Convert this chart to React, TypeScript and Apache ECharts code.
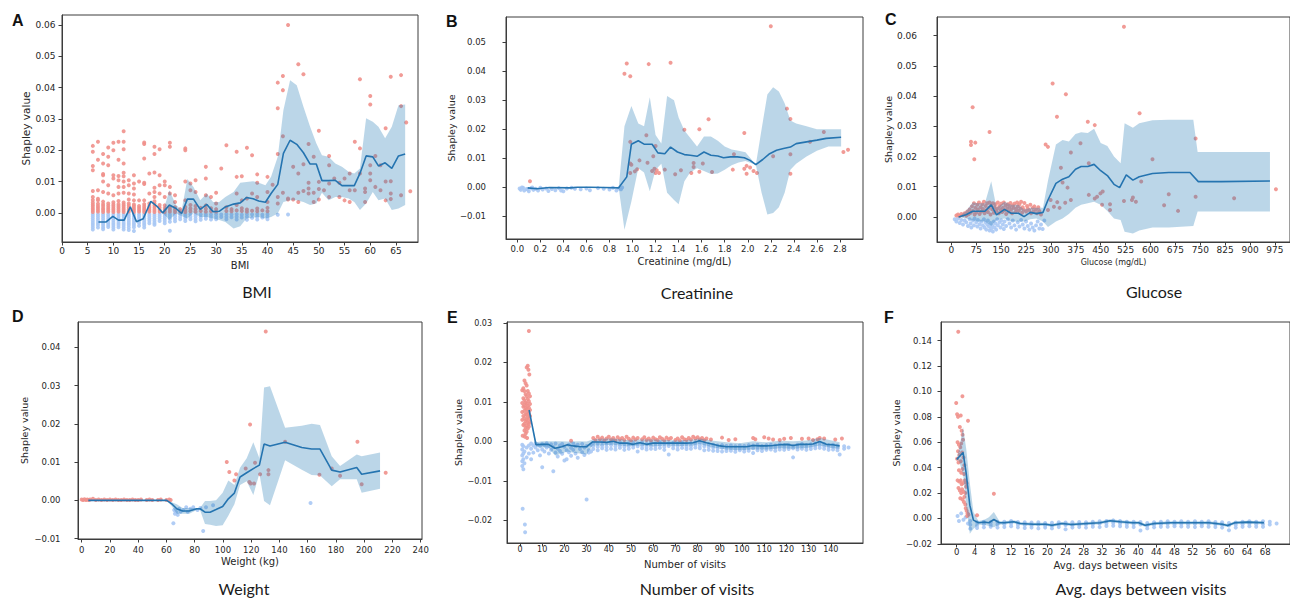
import React, { useEffect, useRef } from "react";
import * as echarts from "echarts";

// ================= Panel A : BMI =================
const aLineX = [7.1, 8.6, 9.9, 11.0, 12.1, 13.3, 14.5, 15.8, 17.3, 18.5, 19.6, 20.9, 22.2, 23.3, 24.4, 25.6, 26.9, 28.2, 29.4, 30.6, 31.8, 33.4, 34.7, 35.9, 37.2, 38.3, 39.6, 40.7, 42.0, 43.1, 44.4, 45.7, 47.0, 48.3, 49.5, 50.6, 51.9, 53.2, 54.5, 55.8, 56.9, 58.0, 59.2, 60.5, 61.6, 62.9, 64.2, 65.5, 66.8];
const aLineY = [-0.0029, -0.0029, -0.0011, -0.0023, -0.0023, 0.0019, -0.0028, -0.0019, 0.0037, 0.0021, 0.0, 0.0025, 0.0014, -0.0002, 0.0044, 0.0044, 0.0011, 0.0027, 0.0004, 0.0005, 0.0019, 0.0028, 0.0032, 0.0049, 0.0045, 0.0038, 0.0034, 0.0062, 0.0091, 0.019, 0.0232, 0.0219, 0.0192, 0.0156, 0.0156, 0.0103, 0.0103, 0.0104, 0.0087, 0.0087, 0.0087, 0.0126, 0.0182, 0.0179, 0.015, 0.016, 0.0142, 0.0182, 0.0188];
const aBandX = [19.6, 20.9, 22.2, 23.3, 24.4, 25.6, 26.9, 28.2, 29.4, 30.6, 31.8, 33.4, 34.7, 35.9, 37.2, 38.3, 39.6, 40.7, 42.0, 43.1, 44.4, 45.7, 47.0, 48.3, 49.5, 50.6, 51.9, 53.2, 54.5, 55.8, 56.9, 58.0, 59.2, 60.5, 61.6, 62.9, 64.2, 65.5, 66.8];
const aBandLo = [0.0, -0.0023, -0.0002, -0.001, -0.0018, 0.0, -0.0013, -0.0013, -0.0018, -0.0023, -0.0029, -0.005, -0.0043, -0.0018, -0.0015, -0.0013, -0.0018, -0.0013, -0.0002, 0.0035, 0.004, 0.004, 0.0035, 0.0025, 0.003, 0.0064, 0.004, 0.0051, 0.0051, 0.0046, 0.0035, 0.0009, 0.003, 0.0067, 0.004, 0.0046, 0.0009, 0.0014, 0.0025];
const aBandHi = [0.0, 0.0072, 0.0025, 0.0009, 0.0108, 0.0083, 0.004, 0.0062, 0.0035, 0.0035, 0.0051, 0.0067, 0.0096, 0.0099, 0.0101, 0.0096, 0.0088, 0.0115, 0.0179, 0.0328, 0.0424, 0.0408, 0.0339, 0.0275, 0.0222, 0.0184, 0.0179, 0.0158, 0.0147, 0.0131, 0.0126, 0.0142, 0.0302, 0.0291, 0.0275, 0.0238, 0.0275, 0.0344, 0.0346];
const aRedCols: [number, number[]][] = [
  [6, [0.0003, 0.0009, 0.0015, 0.0021, 0.0027, 0.0033, 0.0041, 0.0051, 0.007, 0.0136, 0.015, 0.0195, 0.0214]],
  [7, [0.0004, 0.001, 0.0016, 0.0022, 0.0029, 0.004, 0.0045, 0.0072, 0.017, 0.0227]],
  [8, [0.0003, 0.0009, 0.0015, 0.0022, 0.0028, 0.0036, 0.0067, 0.01, 0.012, 0.0124, 0.0158, 0.0188]],
  [9, [0.0004, 0.001, 0.0016, 0.0023, 0.003, 0.0062, 0.0088, 0.0152, 0.0179, 0.0209]],
  [10, [0.0003, 0.0009, 0.0015, 0.0021, 0.0027, 0.0034, 0.0056, 0.011, 0.012, 0.02, 0.0224]],
  [11, [0.0004, 0.001, 0.0016, 0.0022, 0.0028, 0.0038, 0.0062, 0.0083, 0.0104, 0.0118, 0.017, 0.0227]],
  [12, [0.0003, 0.0009, 0.0015, 0.0021, 0.0027, 0.0033, 0.0064, 0.0083, 0.01, 0.0117, 0.0128, 0.0158, 0.0203, 0.0227, 0.0261]],
  [13, [0.0004, 0.001, 0.0017, 0.0024, 0.003, 0.0043, 0.0062, 0.0088, 0.0104]],
  [14, [0.0003, 0.0009, 0.0015, 0.0021, 0.0027, 0.004, 0.0059, 0.0078, 0.0094, 0.012]],
  [15, [0.0004, 0.001, 0.0016, 0.0022, 0.004, 0.01]],
  [16, [0.0003, 0.0009, 0.0015, 0.0021, 0.0028, 0.004, 0.0092, 0.0096, 0.0174, 0.022, 0.0225]],
  [17, [0.0004, 0.001, 0.0016, 0.0022, 0.003, 0.0062, 0.0126]],
  [18, [0.0003, 0.0009, 0.0016, 0.0023, 0.003, 0.0037, 0.0051, 0.0067, 0.008, 0.0129, 0.0188, 0.0211]],
  [19, [0.0004, 0.001, 0.0017, 0.0025, 0.0062, 0.0088, 0.012, 0.0203]],
  [20, [0.0003, 0.0009, 0.0016, 0.0024, 0.0051, 0.0088, 0.01]],
  [21, [0.0004, 0.0011, 0.0018, 0.0062, 0.0083, 0.0211, 0.0224]],
  [22, [0.0003, 0.001, 0.0018, 0.0035, 0.0056]],
  [23, [0.0004, 0.0012]],
  [24, [0.0003, 0.001, 0.0019, 0.004, 0.01, 0.02, 0.0206]],
  [25, [0.0005, 0.0014, 0.0025, 0.0072, 0.0094]],
  [26, [0.0004, 0.0012, 0.0022, 0.0067, 0.0104]],
  [27, [0.0006, 0.0016]],
  [28, [0.0004, 0.0013, 0.0024, 0.0056, 0.011, 0.0147]],
  [29, [0.0005, 0.0015, 0.0051]],
  [30, [0.0004, 0.0012, 0.003, 0.0064]],
  [31, [0.0142]],
  [32, [0.0006, 0.0018, 0.0216]],
  [33, [0.0005, 0.0012]],
  [34, [0.0008, 0.0025, 0.0062, 0.0115, 0.0195]],
  [35, [0.0006, 0.0015, 0.004, 0.0117]],
  [36, [0.0004, 0.0011, 0.0046, 0.0208]],
  [37, [0.0007, 0.0062, 0.0184]],
  [38, [0.0005, 0.0014, 0.0051, 0.0096, 0.0123]],
  [39, [0.0008]],
  [40, [0.0005, 0.0016, 0.0035, 0.0067, 0.0115]],
  [41, [0.009]],
  [42, [0.003, 0.0051, 0.0188, 0.0334, 0.0416]],
  [43, [0.0064, 0.0245, 0.0392, 0.0437]],
  [44, [0.0043, 0.0046, 0.06]],
  [45, [0.0043, 0.0147]],
  [46, [0.0035, 0.0064, 0.0126, 0.0475]],
  [47, [0.007, 0.0155, 0.0443]],
  [48, [0.0062, 0.0078, 0.0096, 0.022]],
  [49, [0.0035, 0.0064, 0.0179]],
  [50, [0.0043, 0.0076, 0.0099, 0.0262]],
  [51, [0.0072]],
  [52, [0.0051, 0.0094, 0.0152, 0.0182]],
  [53, [0.011]],
  [54, [0.0051, 0.0096]],
  [55, [0.004, 0.011]],
  [56, [0.0035, 0.0072, 0.0126]],
  [57, [0.0072, 0.0227]],
  [58, [0.0126, 0.0206, 0.0427]],
  [59, [0.0035, 0.0067, 0.0078]],
  [60, [0.0104, 0.0126, 0.0152, 0.0346, 0.0373]],
  [61, [0.0083, 0.0182]],
  [62, [0.0072, 0.0152]],
  [63, [0.004, 0.01, 0.027]],
  [64, [0.0044, 0.0062, 0.0101, 0.0435]],
  [66, [0.0056, 0.0341, 0.044]],
  [67, [0.0289]],
  [67.8, [0.0069]],
];
const aBlueCols: [number, number[]][] = [
  [6, [-0.0004, -0.0011, -0.0018, -0.0025, -0.0032, -0.0039, -0.0046, -0.0053]],
  [7, [-0.0004, -0.0011, -0.0018, -0.0025, -0.0032, -0.0039, -0.0047]],
  [8, [-0.0004, -0.0011, -0.0018, -0.0025, -0.0032, -0.0039, -0.0046, -0.0052]],
  [9, [-0.0004, -0.0011, -0.0018, -0.0025, -0.0032, -0.0039, -0.0045]],
  [10, [-0.0004, -0.0011, -0.0018, -0.0025, -0.0032, -0.0039, -0.0046, -0.0053]],
  [11, [-0.0004, -0.0011, -0.0018, -0.0025, -0.0032, -0.0039, -0.0046]],
  [12, [-0.0004, -0.0011, -0.0018, -0.0025, -0.0032, -0.0039, -0.0046, -0.0053]],
  [13, [-0.0004, -0.0011, -0.0018, -0.0025, -0.0032, -0.0039, -0.0047, -0.0055]],
  [14, [-0.0004, -0.0011, -0.0018, -0.0025, -0.0032, -0.0039, -0.0046, -0.0058]],
  [15, [-0.0004, -0.0011, -0.0018, -0.0025, -0.0032, -0.0041]],
  [16, [-0.0004, -0.0011, -0.0018, -0.0025, -0.0032, -0.0039, -0.0047]],
  [17, [-0.0004, -0.0011, -0.0018, -0.0025, -0.0033]],
  [18, [-0.0004, -0.0011, -0.0018, -0.0025, -0.0032, -0.0038]],
  [19, [-0.0004, -0.0011, -0.0018, -0.0026]],
  [20, [-0.0004, -0.0011, -0.0018, -0.0025, -0.0033]],
  [21, [-0.0004, -0.0011, -0.0019, -0.0028, -0.0057]],
  [22, [-0.0004, -0.0011, -0.0019, -0.0027]],
  [23, [-0.0004, -0.0012, -0.002]],
  [24, [-0.0004, -0.0011, -0.0018, -0.0026]],
  [25, [-0.0004, -0.0012, -0.002]],
  [26, [-0.0004, -0.0011, -0.0019, -0.0027]],
  [27, [-0.0005, -0.0014, -0.0022]],
  [28, [-0.0004, -0.0011, -0.0019]],
  [29, [-0.0005, -0.0013, -0.0021]],
  [30, [-0.0004, -0.0012, -0.002]],
  [31, [-0.0005, -0.0013]],
  [32, [-0.0004, -0.0012, -0.002]],
  [33, [-0.0005, -0.0014]],
  [34, [-0.0004, -0.0012, -0.0021]],
  [35, [-0.0006, -0.0015]],
  [36, [-0.0004, -0.0012, -0.0022]],
  [37, [-0.0005, -0.0016]],
  [38, [-0.0004, -0.0012, -0.0021]],
  [39, [-0.0006, -0.0015]],
  [40, [-0.0004, -0.0012, -0.002]],
  [42, [-0.0006]],
  [44, [-0.0005]],
];
const aXTicks = [0, 5, 10, 15, 20, 25, 30, 35, 40, 45, 50, 55, 60, 65];
const aYTicks = [0, 0.01, 0.02, 0.03, 0.04, 0.05, 0.06];

// ================= Panel B : Creatinine =================
const bLineX = [0.09, 0.17, 0.28, 0.46, 0.52, 0.63, 0.75, 0.88, 0.95, 0.99, 1.05, 1.10, 1.17, 1.22, 1.28, 1.33, 1.39, 1.45, 1.50, 1.56, 1.62, 1.68, 1.74, 1.79, 1.85, 1.91, 1.97, 2.02, 2.07, 2.13, 2.19, 2.25, 2.31, 2.37, 2.42, 2.51, 2.60, 2.68, 2.81];
const bLineY = [-0.0003, -0.0006, -0.0002, -0.0003, -0.0001, -0.0001, -0.0002, -0.0003, 0.0035, 0.0148, 0.016, 0.0148, 0.0148, 0.0118, 0.0115, 0.0138, 0.0121, 0.0112, 0.011, 0.0106, 0.0121, 0.011, 0.0107, 0.0101, 0.0104, 0.0104, 0.0101, 0.0092, 0.0077, 0.0095, 0.0115, 0.0127, 0.0133, 0.0138, 0.015, 0.0156, 0.0162, 0.0168, 0.0172];
const bBandX = [0.88, 0.93, 0.99, 1.05, 1.10, 1.15, 1.20, 1.25, 1.30, 1.36, 1.40, 1.45, 1.50, 1.56, 1.62, 1.68, 1.74, 1.80, 1.86, 1.92, 1.98, 2.07, 2.12, 2.17, 2.22, 2.27, 2.32, 2.37, 2.42, 2.51, 2.60, 2.70, 2.81];
const bBandLo = [-0.0003, -0.0148, -0.005, 0.0065, 0.005, -0.0015, 0.006, 0.008, -0.002, -0.0045, -0.006, 0.002, 0.005, 0.0065, 0.0055, 0.0045, 0.0047, 0.006, 0.0075, 0.0085, 0.009, 0.0077, -0.002, -0.0095, -0.009, -0.007, -0.002, 0.006, 0.008, 0.0105, 0.0125, 0.014, 0.014];
const bBandHi = [-0.0003, 0.021, 0.028, 0.022, 0.021, 0.031, 0.018, 0.015, 0.0315, 0.030, 0.024, 0.0195, 0.017, 0.014, 0.0175, 0.0175, 0.016, 0.014, 0.013, 0.0125, 0.012, 0.0077, 0.020, 0.032, 0.0345, 0.033, 0.029, 0.023, 0.022, 0.021, 0.020, 0.020, 0.020];
const bRed: number[][] = [
  [0.11, 0.002], [0.93, 0.0392], [0.95, 0.0427], [0.98, 0.0383], [0.98, 0.0156], [0.98, 0.0081], [0.99, 0.0077], [0.98, 0.0048],
  [1.02, 0.0054], [1.04, 0.0061], [1.06, 0.0092], [1.12, 0.0179], [1.14, 0.0425], [1.13, 0.0084], [1.17, 0.0055], [1.18, 0.0106],
  [1.19, 0.0063], [1.20, 0.0048], [1.20, 0.0142], [1.21, 0.0058], [1.23, 0.0048], [1.28, 0.006], [1.33, 0.043], [1.37, 0.0044],
  [1.42, 0.0058], [1.45, 0.0198], [1.51, 0.0048], [1.53, 0.0083], [1.53, 0.0069], [1.58, 0.02], [1.58, 0.0053], [1.61, 0.0081],
  [1.66, 0.0234], [1.69, 0.0052], [1.87, 0.006], [1.88, 0.0113], [1.97, 0.0187], [1.97, 0.0063], [1.99, 0.0046], [1.99, 0.0073],
  [2.02, 0.0067], [2.05, 0.0055], [2.08, 0.0048], [2.20, 0.0556], [2.22, 0.0106], [2.34, 0.0271], [2.37, 0.0235], [2.37, 0.0113],
  [2.37, 0.0046], [2.54, 0.0156], [2.66, 0.019], [2.83, 0.0121], [2.87, 0.0129],
];
const bBlue: number[][] = [
  [0.02, -0.0005], [0.03, -0.001], [0.05, -0.0003], [0.06, -0.0012], [0.08, -0.0007], [0.1, -0.0015], [0.12, -0.0004], [0.14, -0.001],
  [0.16, -0.0006], [0.18, -0.0012], [0.2, -0.0003], [0.22, -0.0009], [0.25, -0.0005], [0.27, -0.0014], [0.3, -0.0007], [0.33, -0.0011],
  [0.36, -0.0004], [0.38, -0.0012], [0.4, -0.0015], [0.43, -0.0005], [0.47, -0.0003], [0.5, -0.0006], [0.55, -0.0008], [0.6, -0.0005],
  [0.63, -0.0011], [0.7, -0.0004], [0.75, -0.0006], [0.8, -0.0009], [0.83, -0.0003], [0.86, -0.0012], [0.88, -0.0005], [0.9, -0.0008],
  [0.91, -0.0002], [0.04, -0.0002], [0.09, -0.0009], [0.13, -0.0002],
];
const bXTicks = [0, 0.2, 0.4, 0.6, 0.8, 1.0, 1.2, 1.4, 1.6, 1.8, 2.0, 2.2, 2.4, 2.6, 2.8];
const bYTicks = [-0.01, 0, 0.01, 0.02, 0.03, 0.04, 0.05];

// ================= Panel C : Glucose =================
const cLineX = [21.7, 44, 64, 81, 101, 120, 136, 160, 180, 202, 219, 238, 256, 276, 291, 315, 335, 354, 374, 391, 411, 430, 450, 470, 490, 507, 527, 547, 566, 606, 655, 719, 744, 812, 960];
const cLineY = [0.0, 0.0007, 0.0019, 0.0019, 0.0019, 0.004, 0.0007, 0.0025, 0.0012, 0.0012, 0.0001, 0.0015, 0.0011, 0.0015, 0.0056, 0.0111, 0.0125, 0.0133, 0.0158, 0.0167, 0.0167, 0.0174, 0.0153, 0.0137, 0.0108, 0.0097, 0.0139, 0.0122, 0.0133, 0.0144, 0.0147, 0.0147, 0.0117, 0.0117, 0.0119];
const cBandX = [21.7, 44, 64, 81, 101, 120, 136, 160, 180, 202, 219, 238, 256, 276, 291, 315, 335, 354, 374, 391, 411, 430, 450, 470, 490, 510, 522, 547, 566, 606, 655, 729, 742, 960];
const cBandLo = [0.0, -0.0005, -0.0012, -0.0015, -0.0015, -0.003, -0.001, -0.0005, -0.0015, -0.0015, -0.0015, -0.0008, -0.0005, -0.0015, -0.0033, -0.0015, -0.0005, 0.001, 0.003, 0.004, 0.0045, 0.005, 0.004, 0.002, -0.0005, -0.001, -0.0049, -0.0055, -0.0045, -0.0035, -0.0035, -0.003, 0.0018, 0.0018];
const cBandHi = [0.0, 0.002, 0.0048, 0.0045, 0.0045, 0.0118, 0.003, 0.005, 0.004, 0.004, 0.0025, 0.003, 0.003, 0.003, 0.012, 0.024, 0.0255, 0.025, 0.0275, 0.028, 0.0278, 0.0292, 0.0245, 0.0235, 0.020, 0.0178, 0.031, 0.0295, 0.031, 0.032, 0.0322, 0.0322, 0.0215, 0.0215];
const cRed: number[][] = [
  [15, 0.0005], [20, 0.0008], [25, 0.0003], [30, 0.001], [35, 0.0006], [40, 0.0012], [45, 0.0004], [48, 0.0018], [52, 0.0009], [55, 0.0025],
  [58, 0.0014], [62, 0.0035], [65, 0.002], [68, 0.0045], [70, 0.0008], [72, 0.003], [75, 0.0015], [78, 0.004], [80, 0.0025], [83, 0.0048],
  [85, 0.001], [88, 0.0032], [90, 0.0018], [93, 0.0042], [95, 0.0026], [98, 0.005], [100, 0.0012], [103, 0.0036], [105, 0.0022], [108, 0.0045],
  [110, 0.0016], [113, 0.003], [115, 0.0048], [118, 0.0008], [120, 0.0038], [123, 0.0025], [125, 0.0045], [128, 0.0014], [130, 0.0032], [133, 0.0042],
  [135, 0.002], [138, 0.0028], [140, 0.0048], [143, 0.0012], [145, 0.0036], [148, 0.0024], [150, 0.0044], [153, 0.0016], [155, 0.003], [158, 0.0048],
  [160, 0.0022], [163, 0.0038], [165, 0.001], [168, 0.0028], [170, 0.0042], [173, 0.0018], [175, 0.0034], [178, 0.0046], [180, 0.0025], [183, 0.0012],
  [185, 0.0038], [188, 0.003], [190, 0.0044], [193, 0.0016], [195, 0.0026], [198, 0.0048], [200, 0.0035], [203, 0.002], [205, 0.0042], [208, 0.0028],
  [210, 0.005], [213, 0.0014], [215, 0.0032], [218, 0.0024], [220, 0.0046], [225, 0.0018], [228, 0.0036], [230, 0.0028], [235, 0.0022], [238, 0.004],
  [240, 0.0012], [245, 0.003], [248, 0.0018], [250, 0.0035], [255, 0.0025], [258, 0.0012], [262, 0.0032], [265, 0.002], [270, 0.0008],
  [64, 0.0363], [59, 0.0249], [59, 0.0238], [72, 0.0246], [69, 0.0191], [115, 0.0281], [284, 0.024], [291, 0.0232], [305, 0.0442], [318, 0.0332],
  [330, 0.0163], [335, 0.0114], [345, 0.0406], [350, 0.0097], [360, 0.0213], [360, 0.0056], [343, 0.0047], [389, 0.0244], [411, 0.0315], [414, 0.0178],
  [414, 0.0073], [432, 0.0304], [432, 0.0061], [439, 0.0067], [449, 0.0078], [456, 0.0084], [454, 0.004], [478, 0.0023], [478, 0.0042], [520, 0.063],
  [520, 0.0053], [544, 0.0056], [547, 0.0064], [556, 0.005], [567, 0.0343], [572, 0.0117], [606, 0.0191], [641, 0.0039], [655, 0.0075], [683, 0.002],
  [736, 0.026], [736, 0.0067], [852, 0.0062], [978, 0.0092], [291, 0.0023], [309, 0.0034], [319, 0.0049], [326, 0.003], [299, 0.0056],
];
const cBlue: number[][] = [
  [10, -0.0008], [15, -0.0015], [20, -0.0005], [25, -0.002], [30, -0.001], [35, -0.0025], [40, -0.0012], [45, -0.0018], [50, -0.003], [55, -0.0008],
  [58, -0.0022], [60, -0.0035], [65, -0.0012], [68, -0.0028], [70, -0.0005], [75, -0.0018], [78, -0.0032], [80, -0.001], [85, -0.0024], [88, -0.0038],
  [90, -0.0015], [95, -0.0028], [98, -0.0008], [100, -0.0035], [103, -0.0018], [105, -0.0042], [108, -0.0025], [110, -0.0012], [113, -0.0032], [115, -0.0045],
  [118, -0.002], [120, -0.0038], [123, -0.0028], [125, -0.0048], [128, -0.0015], [130, -0.0035], [133, -0.0022], [135, -0.0042], [138, -0.0008], [140, -0.0028],
  [145, -0.0018], [148, -0.0035], [150, -0.0012], [155, -0.0025], [158, -0.004], [160, -0.0015], [165, -0.003], [170, -0.0008], [175, -0.0022], [180, -0.0035],
  [185, -0.0012], [190, -0.0028], [195, -0.0042], [200, -0.0018], [205, -0.0032], [210, -0.001], [215, -0.0025], [220, -0.0038], [225, -0.0015], [230, -0.003],
  [235, -0.0042], [240, -0.0022], [245, -0.0035], [250, -0.0045], [255, -0.0028], [260, -0.0015], [265, -0.0038], [270, -0.0025], [275, -0.004], [280, -0.0012],
];
const cXTicks = [0, 75, 150, 225, 300, 375, 450, 525, 600, 675, 750, 825, 900, 975];
const cYTicks = [0, 0.01, 0.02, 0.03, 0.04, 0.05, 0.06];

// ================= Panel D : Weight =================
const dLineX = [4.7, 60.2, 63.7, 67.3, 71.5, 76.2, 81.4, 83.8, 87.3, 90.9, 95.1, 99.8, 103.8, 108.1, 112.1, 116.8, 121.5, 125.8, 129.1, 133.3, 144, 155.8, 162.8, 168.7, 177, 182.9, 194.7, 198.2, 211.2];
const dLineY = [0.0, 0.0, -0.0009, -0.0022, -0.0028, -0.0028, -0.0022, -0.0022, -0.0031, -0.0031, -0.0024, -0.0016, 0.0004, 0.0019, 0.0061, 0.0072, 0.0083, 0.0092, 0.0147, 0.0142, 0.0152, 0.0138, 0.0134, 0.0134, 0.0079, 0.0074, 0.0086, 0.0068, 0.0077];
const dBandX = [60.2, 63.7, 67.3, 71.5, 76.2, 81.4, 83.8, 87.3, 90.9, 95.1, 99.8, 103.8, 108.1, 112.1, 116.8, 121.5, 125.8, 129.1, 133.3, 144, 155.8, 162.8, 168.7, 177, 182.9, 194.7, 198.2, 211.2];
const dBandLo = [0.0, -0.0015, -0.0035, -0.0035, -0.0035, -0.0025, -0.0025, -0.0062, -0.0064, -0.0067, -0.0065, -0.004, -0.001, 0.004, 0.005, 0.0014, 0.007, -0.0002, -0.0013, 0.0105, 0.008, 0.0066, 0.0065, 0.0037, 0.0055, 0.0055, 0.002, 0.003];
const dBandHi = [0.0, -0.0005, -0.001, -0.002, -0.002, -0.002, -0.002, -0.0002, -0.0002, 0.0, 0.002, 0.0052, 0.004, 0.0085, 0.011, 0.0152, 0.011, 0.0295, 0.0298, 0.019, 0.0195, 0.020, 0.0197, 0.0115, 0.009, 0.012, 0.0115, 0.0125];
const dRed: number[][] = [
  [0, 0.0002], [1, 0.0001], [2, 0.0003], [3, 0.0001], [4, 0.0002], [5, 0.0001], [6, 0.0002], [8, 0.0004], [10, 0.0001], [12, 0.0002],
  [14, 0.0001], [16, 0.0002], [18, 0.0001], [20, 0.0002], [22, 0.0001], [24, 0.0002], [26, 0.0001], [28, 0.0001], [30, 0.0002], [32, 0.0001],
  [34, 0.0001], [36, 0.0002], [38, 0.0001], [40, 0.0001], [42, 0.0002], [46, 0.0001], [48, 0.0002], [50, 0.0001], [54, 0.0001], [56, 0.0002],
  [60, 0.0001], [62, 0.0002], [63, 0.0001],
  [102.7, 0.01], [104.5, 0.0074], [108.1, 0.0052], [109.3, 0.0068], [116.1, 0.0083], [118.7, 0.0048], [119.2, 0.0198], [119.6, 0.0044],
  [122, 0.0044], [122.7, 0.0098], [126.3, 0.0068], [130.3, 0.0441], [132.2, 0.0079], [132.2, 0.0068], [144, 0.0153], [168.3, 0.0067],
  [177, 0.0083], [182.9, 0.0064], [195.2, 0.0153], [198.2, 0.0042], [215.2, 0.0072],
];
const dBlue: number[][] = [
  [64.9, -0.006], [65.5, -0.0025], [66, -0.0035], [66.5, -0.0028], [67, -0.0032], [68, -0.0038], [69, -0.0022], [70, -0.003], [72, -0.0025],
  [74, -0.0018], [75, -0.003], [77, -0.0022], [79, -0.0018], [82, -0.0025], [84, -0.002], [86, -0.008], [88, -0.0018], [93, -0.0013], [162, -0.0007],
];
const dXTicks = [0, 20, 40, 60, 80, 100, 120, 140, 160, 180, 200, 220, 240];
const dYTicks = [-0.01, 0, 0.01, 0.02, 0.03, 0.04];

// ================= Panel E : Number of visits =================
const eLineX = [4.1, 7.2, 9.8, 12.8, 15.8, 18.8, 21.3, 24, 27, 30, 32.7, 36, 39, 42, 45, 48, 51, 54, 57, 60, 63, 66, 69, 72, 75, 78, 80.8, 84, 87, 90, 93, 96, 99, 102, 105, 108, 111, 114, 117, 120, 123, 126, 129, 132, 135, 138, 141, 144];
const eLineY = [0.008, -0.0008, -0.0007, -0.0007, -0.0017, -0.0013, -0.0008, -0.0011, -0.0013, -0.0013, -0.0001, -0.0001, -0.0002, 0.0001, -0.0004, -0.0004, -0.0007, -0.0003, -0.0007, -0.0004, -0.0004, -0.0004, -0.0004, -0.0004, -0.0004, -0.0003, 0.0002, -0.0003, -0.0007, -0.0011, -0.0013, -0.0013, -0.0013, -0.0013, -0.001, -0.0011, -0.0011, -0.001, -0.0008, -0.0007, -0.001, -0.0007, -0.0007, -0.0006, 0.0, -0.0007, -0.0008, -0.0011];
const eBandX = [4.1, 7.2, 9.8, 12.8, 15.8, 18.8, 21.3, 24, 27, 30, 32.7, 36, 42, 48, 54, 60, 66, 72, 78, 80.8, 87, 93, 99, 105, 111, 117, 123, 129, 135, 141, 144];
const eBandLo = [0.008, -0.0012, -0.0015, -0.0015, -0.0035, -0.003, -0.0025, -0.0028, -0.003, -0.0033, -0.001, -0.001, -0.0008, -0.0012, -0.001, -0.0012, -0.001, -0.0011, -0.001, -0.0006, -0.0015, -0.002, -0.0022, -0.002, -0.002, -0.0017, -0.0018, -0.0016, -0.001, -0.0017, -0.0018];
const eBandHi = [0.008, -0.0002, 0.0001, 0.0001, 0.0001, 0.0001, 0.0, 0.0, 0.0001, 0.0, 0.0005, 0.0007, 0.0008, 0.0004, 0.0005, 0.0005, 0.0004, 0.0003, 0.0005, 0.0008, 0.0002, -0.0002, -0.0004, 0.0001, -0.0002, 0.0002, 0.0001, 0.0003, 0.0009, 0.0002, -0.0002];
const eRed: number[][] = [
  [1, 0.013], [1, 0.0098], [1, 0.0075], [1, 0.0055], [1.5, 0.0135], [1.5, 0.011], [1.5, 0.0088], [1.5, 0.0065], [1.5, 0.0042],
  [2, 0.0155], [2, 0.0128], [2, 0.0105], [2, 0.0092], [2, 0.0078], [2, 0.006], [2, 0.0045], [2, 0.0028],
  [2.5, 0.0148], [2.5, 0.012], [2.5, 0.0099], [2.5, 0.0085], [2.5, 0.007], [2.5, 0.0052], [2.5, 0.0035], [2.5, 0.002],
  [3, 0.0188], [3, 0.0142], [3, 0.0115], [3, 0.0096], [3, 0.0082], [3, 0.0068], [3, 0.0055], [3, 0.004], [3, 0.0025],
  [3.5, 0.0192], [3.5, 0.0128], [3.5, 0.0108], [3.5, 0.009], [3.5, 0.0076], [3.5, 0.0062], [3.5, 0.0048], [3.5, 0.0033],
  [4, 0.028], [4, 0.0122], [4, 0.0102], [4, 0.0086], [4, 0.0072], [4, 0.0058], [4, 0.0045], [4, 0.0038],
  [4.5, 0.0115], [4.5, 0.0095], [4.5, 0.008], [4.5, 0.0065], [4.5, 0.005], [1.2, 0.0015], [2.2, 0.0012], [3.2, 0.0009], [4.2, 0.017], [3.8, 0.0182],
  [23, 0.0002], [33, 0.0009], [34, 0.0004], [35, 0.0012], [36, 0.0006], [37, 0.001], [38, 0.0003], [39, 0.0008], [40, 0.0012], [41, 0.0005],
  [42, 0.0009], [43, 0.0003], [44, 0.0011], [45, 0.0006], [46, 0.0009], [47, 0.0004], [48, 0.0012], [49, 0.0007], [50, 0.0003], [51, 0.001],
  [52, 0.0005], [53, 0.0009], [55, 0.0006], [56, 0.0011], [57, 0.0004], [58, 0.0008], [59, 0.0003], [60, 0.001], [61, 0.0006], [62, 0.0004],
  [63, 0.0011], [64, 0.0007], [65, 0.0003], [66, 0.001], [67, 0.0006], [68, 0.0009], [70, 0.0004], [71, 0.0008], [72, 0.0003], [73, 0.0011],
  [74, 0.0006], [75, 0.0004], [76, 0.0009], [77, 0.0005], [78, 0.0012], [79, 0.0008], [80, 0.0011], [81, 0.0006], [82, 0.0009], [83, 0.0004],
  [84, 0.0008], [86, 0.0005], [91, 0.001], [94, 0.0004], [97, 0.0006], [105, 0.0009], [106, 0.0006], [110, 0.0011], [112, 0.0008], [114, 0.0005],
  [117, 0.0004], [119, 0.0007], [122, 0.0009], [127, 0.0007], [130, 0.0008], [132, 0.0004], [134, 0.0006], [135, 0.0009], [137, 0.0008], [142, 0.0005], [145, 0.0008],
];
const eBlueNear: number[][] = [
  [1, -0.0008], [1, -0.002], [1, -0.0035], [1, -0.005], [1, -0.0062], [1.2, -0.017], [1.5, -0.0012], [1.5, -0.003], [1.5, -0.0045], [1.5, -0.007],
  [2, -0.0025], [2, -0.0055], [2.2, -0.021], [2.3, -0.023], [3, -0.0015], [3, -0.004], [4, -0.001], [4, -0.003], [5, -0.0045],
  [5, -0.0005], [5, -0.0018], [6, -0.001], [6, -0.0028], [7, -0.0004], [7, -0.0015], [8, -0.0008], [8, -0.0022], [9, -0.0012], [9, -0.0035],
  [10, -0.0006], [10, -0.002], [10, -0.0065], [11, -0.0009], [11, -0.0025], [12, -0.0004], [12, -0.0015], [13, -0.0011], [13, -0.003], [14, -0.0007],
  [14, -0.0021], [15, -0.0075], [15, -0.0014], [16, -0.0028], [16, -0.0005], [17, -0.0018], [17, -0.0038], [18, -0.001], [18, -0.0024], [19, -0.0006],
  [19, -0.0031], [20, -0.0048], [20, -0.0013], [21, -0.0022], [21, -0.0045], [22, -0.0008], [22, -0.0027], [23, -0.0016], [23, -0.0036], [24, -0.0005],
  [24, -0.0021], [25, -0.0012], [25, -0.003], [26, -0.0041], [26, -0.0008], [27, -0.0019], [28, -0.0027], [28, -0.0006], [29, -0.0015], [29, -0.0034],
  [30, -0.0147], [30, -0.0011], [31, -0.0022], [31, -0.0028], [32, -0.0008], [32, -0.0025],
];
const eBlueCols: [number, number[]][] = [
  [33, [-0.0003, -0.0011, -0.0019]], [35, [-0.0005, -0.0013, -0.0022]], [37, [-0.0002, -0.001, -0.0017]], [39, [-0.0006, -0.0014, -0.0021]],
  [41, [-0.0003, -0.0009, -0.0018]], [43, [-0.0005, -0.0012, -0.002]], [45, [-0.0002, -0.001, -0.0016]], [47, [-0.0006, -0.0013, -0.0021]],
  [49, [-0.0004, -0.0011, -0.0018]], [51, [-0.0003, -0.0009, -0.0015]], [53, [-0.0005, -0.0012, -0.0025]], [55, [-0.0002, -0.001, -0.0017]],
  [57, [-0.0006, -0.0014, -0.002]], [59, [-0.0003, -0.0011, -0.0018]], [61, [-0.0005, -0.0012, -0.0019]], [63, [-0.0002, -0.0009, -0.0016]],
  [65, [-0.0006, -0.0013, -0.0021]], [67, [-0.0004, -0.0011, -0.0033]], [69, [-0.0003, -0.001, -0.0017]], [71, [-0.0005, -0.0012, -0.002]],
  [73, [-0.0002, -0.0009, -0.0016]], [75, [-0.0006, -0.0013, -0.0019]], [77, [-0.0004, -0.0011, -0.0018]], [79, [-0.0002, -0.0008, -0.0015]],
  [81, [-0.0003, -0.001, -0.0017]], [83, [-0.0005, -0.0012, -0.0022]], [85, [-0.0007, -0.0014, -0.0021]], [87, [-0.0008, -0.0015, -0.0023]],
  [89, [-0.001, -0.0017, -0.0024]], [91, [-0.0009, -0.0016, -0.0025]], [93, [-0.0011, -0.0018, -0.0024]], [95, [-0.001, -0.0017, -0.0023]],
  [97, [-0.0012, -0.0019, -0.0026]], [99, [-0.001, -0.0016, -0.0022]], [101, [-0.0011, -0.0018, -0.0025]], [103, [-0.0009, -0.0016, -0.0023]],
  [105, [-0.001, -0.0017, -0.0029]], [107, [-0.0008, -0.0015, -0.0022]], [109, [-0.0011, -0.0017, -0.0024]], [111, [-0.0009, -0.0016, -0.0021]],
  [113, [-0.0008, -0.0014, -0.002]], [115, [-0.001, -0.0016, -0.0023]], [117, [-0.0007, -0.0013, -0.002]], [119, [-0.0009, -0.0015, -0.0021]],
  [121, [-0.0008, -0.0014, -0.0019]], [123, [-0.0011, -0.0017, -0.004]], [125, [-0.0008, -0.0014, -0.002]], [127, [-0.0006, -0.0012, -0.0018]],
  [129, [-0.0009, -0.0015, -0.0021]], [131, [-0.0007, -0.0013, -0.0019]], [133, [-0.0005, -0.0011, -0.0017]], [135, [-0.0003, -0.001, -0.0016]],
  [137, [-0.0006, -0.0012, -0.0018]], [139, [-0.0009, -0.0015, -0.0021]], [141, [-0.0008, -0.0014, -0.002]], [143, [-0.001, -0.0016, -0.0022]],
  [144, [-0.0033]], [146, [-0.0012, -0.0018]], [148, [-0.0015]],
];
const eXTicks = [0, 10, 20, 30, 40, 50, 60, 70, 80, 90, 100, 110, 120, 130, 140];
const eYTicks = [-0.02, -0.01, 0, 0.01, 0.02, 0.03];

// ================= Panel F : Avg. days between visits =================
const fLineX = [0, 0.56, 1.41, 2.1, 2.9, 3.7, 4.8, 6.1, 7.1, 8.2, 9.4, 10.5, 12.6, 14, 16.8, 19.6, 21, 23.2, 25.3, 28.8, 31.6, 33.8, 36, 38.7, 40.1, 41.5, 43.6, 47.2, 50, 52.8, 55.6, 58.5, 59.7, 61.3, 64.1, 67.7];
const fLineY = [0.0465, 0.0486, 0.052, 0.0355, 0.0105, -0.0013, -0.0034, -0.0029, -0.0034, -0.0008, -0.0034, -0.0034, -0.0026, -0.0039, -0.0045, -0.0045, -0.0053, -0.0039, -0.0047, -0.0039, -0.0034, -0.0018, -0.0026, -0.0034, -0.0034, -0.0053, -0.0039, -0.0034, -0.0034, -0.0034, -0.0034, -0.0045, -0.0055, -0.0034, -0.0029, -0.0034];
const fBandX = fLineX;
const fBandLo = [0.0465, 0.045, 0.035, 0.01, -0.012, -0.008, -0.005, -0.005, -0.006, -0.007, -0.005, -0.0046, -0.0038, -0.0051, -0.0057, -0.0057, -0.0065, -0.0051, -0.0059, -0.0051, -0.0046, -0.003, -0.0038, -0.0046, -0.0046, -0.0065, -0.0051, -0.0046, -0.0046, -0.0046, -0.0046, -0.0057, -0.0067, -0.0046, -0.0041, -0.0046];
const fBandHi = [0.0465, 0.055, 0.072, 0.055, 0.028, 0.005, -0.002, -0.001, 0.001, 0.005, -0.002, -0.0022, -0.0014, -0.0027, -0.0033, -0.0033, -0.0041, -0.0027, -0.0035, -0.0027, -0.0022, -0.0006, -0.0014, -0.0022, -0.0022, -0.0041, -0.0027, -0.0022, -0.0022, -0.0022, -0.0022, -0.0033, -0.0043, -0.0022, -0.0017, -0.0022];
const fRed: number[][] = [
  [-0.1, 0.091], [0.35, 0.147], [1.27, 0.0962], [2.5, 0.077], [0.1, 0.082], [0.3, 0.08], [0.9, 0.081], [0.7, 0.072], [1.1, 0.069], [1.3, 0.066],
  [0.2, 0.06], [0.5, 0.058], [0.8, 0.056], [1.0, 0.059], [1.4, 0.062], [0.3, 0.053], [0.6, 0.05], [1.2, 0.052], [0.1, 0.047], [0.4, 0.044],
  [0.9, 0.045], [1.5, 0.048], [1.7, 0.042], [0.5, 0.038], [1.0, 0.036], [1.3, 0.039], [1.6, 0.035], [0.2, 0.03], [0.6, 0.029], [0.9, 0.03],
  [1.1, 0.027], [1.4, 0.028], [1.8, 0.03], [2.2, 0.028], [0.4, 0.024], [0.7, 0.022], [1.0, 0.02], [1.2, 0.023], [1.5, 0.021], [1.9, 0.02],
  [2.1, 0.025], [0.8, 0.016], [1.3, 0.015], [1.6, 0.013], [1.9, 0.011], [2.0, 0.008], [2.2, 0.006], [2.4, 0.004], [2.3, 0.002], [8.2, 0.0195],
  [4.5, 0.0025], [1.7, 0.017], [2.6, 0.003],
];
const fBlueNear: number[][] = [[0.2, 0.002], [0.5, -0.002], [1, 0.004], [1.5, -0.001], [2, 0.001], [2.5, -0.004]];
const fBlueCols: [number, number[]][] = [
  [3, [-0.002, -0.005, -0.008]], [4.5, [-0.003, -0.0055, -0.0075]], [6, [-0.0025, -0.0045, -0.007]], [7.5, [-0.003, -0.005, -0.0065]],
  [9, [-0.0028, -0.0048, -0.0072]], [10.5, [-0.0025, -0.0045, -0.0068]], [12, [-0.002, -0.004, -0.0062]], [13.5, [-0.0028, -0.005, -0.007]],
  [15, [-0.003, -0.0052, -0.0075]], [16.5, [-0.0032, -0.0055, -0.0072]], [18, [-0.003, -0.005, -0.0078]], [19.5, [-0.0035, -0.0055, -0.0072]],
  [21, [-0.0033, -0.0058, -0.0078]], [22.5, [-0.003, -0.005, -0.0068]], [24, [-0.0032, -0.0052, -0.0085]], [25.5, [-0.003, -0.0055, -0.0072]],
  [27, [-0.0028, -0.005, -0.0068]], [28.5, [-0.003, -0.0048, -0.0072]], [30, [-0.0025, -0.0045, -0.0065]], [31.5, [-0.0022, -0.0042, -0.0068]],
  [33, [-0.002, -0.004, -0.006]], [34.5, [-0.0015, -0.0035, -0.0058]], [36, [-0.002, -0.004, -0.0062]], [37.5, [-0.0025, -0.0045, -0.0066]],
  [39, [-0.0025, -0.0045, -0.0068]], [40.5, [-0.0028, -0.0048, -0.0095]], [42, [-0.0035, -0.0058, -0.0078]], [43.5, [-0.003, -0.005, -0.007]],
  [45, [-0.0025, -0.0045, -0.0066]], [46.5, [-0.0022, -0.0042, -0.0065]], [48, [-0.0025, -0.0045, -0.0062]], [49.5, [-0.0022, -0.0042, -0.0064]],
  [51, [-0.0025, -0.0045, -0.0066]], [52.5, [-0.0022, -0.0044, -0.0068]], [54, [-0.0025, -0.0045, -0.0062]], [55.5, [-0.0022, -0.0042, -0.0065]],
  [57, [-0.0028, -0.0048, -0.0068]], [58.5, [-0.003, -0.005, -0.0072]], [60, [-0.0035, -0.0055, -0.0092]], [61.5, [-0.0032, -0.0052, -0.0072]],
  [63, [-0.0025, -0.0045, -0.0066]], [64.5, [-0.0022, -0.0042, -0.0062]], [66, [-0.0025, -0.0045, -0.0065]], [67.5, [-0.0022, -0.0044, -0.0066]],
  [69, [-0.0025, -0.0048]], [70.5, [-0.004]],
];
const fXTicks = [0, 4, 8, 12, 16, 20, 24, 28, 32, 36, 40, 44, 48, 52, 56, 60, 64, 68];
const fYTicks = [-0.02, 0, 0.02, 0.04, 0.06, 0.08, 0.1, 0.12, 0.14];

// ================= helpers =================
const zip = (xs: number[], ys: number[]) => xs.map((x, i) => [x, ys[i]]);
const cols = (c: [number, number[]][]) => {
  const out: number[][] = [];
  c.forEach(([x, ys]) => ys.forEach((y) => out.push([x, y])));
  return out;
};
const bandRows = (xs: number[], lo: number[], hi: number[]) => xs.map((x, i) => [x, lo[i], hi[i]]);

const RED = "#f0908b";
const BLUE = "#a9c8f4";
const LINE = "#2574b0";
const BAND = "rgba(31,119,180,0.30)";
const FRAME = "#3c3c3c";
const TXT = "#262626";

const fmtY = (v: number) => {
  const s = Math.abs(v) < 1e-9 ? "0.00" : v.toFixed(2);
  return s.replace("-", "\u2212");
};

const panels = [
  {
    letter: "A", caption: "BMI", xName: "BMI",
    grid: { left: 62, top: 15, width: 356, height: 227 },
    xMin: 0, xMax: 69.3, yMin: -0.0093, yMax: 0.0632, xTicks: aXTicks, yTicks: aYTicks, xDec: 0,
    tick: 9, xMargin: 4, yMargin: 6.5, xNameSize: 10, xNameGap: 18, yNameSize: 10.5, yNameGap: 31,
    letterPos: [12, 20.5], captionPos: [257, 291],
    line: zip(aLineX, aLineY), band: bandRows(aBandX, aBandLo, aBandHi), red: cols(aRedCols), blue: cols(aBlueCols),
  },
  {
    letter: "B", caption: "Creatinine", xName: "Creatinine (mg/dL)",
    grid: { left: 506, top: 17, width: 357, height: 222 },
    xMin: -0.098, xMax: 3.0, yMin: -0.018, yMax: 0.0588, xTicks: bXTicks, yTicks: bYTicks, xDec: 1,
    tick: 8.5, xMargin: 5, yMargin: 20, xNameSize: 10, xNameGap: 17, yNameSize: 9.5, yNameGap: 40.5,
    letterPos: [446, 21], captionPos: [697, 292],
    line: zip(bLineX, bLineY), band: bandRows(bBandX, bBandLo, bBandHi), red: bRed, blue: bBlue,
  },
  {
    letter: "C", caption: "Glucose", xName: "Glucose (mg/dL)",
    grid: { left: 937, top: 17, width: 360, height: 225 },
    xMin: -43.4, xMax: 1020.4, yMin: -0.0083, yMax: 0.0662, xTicks: cXTicks, yTicks: cYTicks, xDec: 0,
    tick: 9, xMargin: 3.5, yMargin: 20, xNameSize: 8, xNameGap: 16.5, yNameSize: 9.5, yNameGap: 32.5,
    letterPos: [885, 19], captionPos: [1154, 291],
    line: zip(cLineX, cLineY), band: bandRows(cBandX, cBandLo, cBandHi), red: cRed, blue: cBlue,
  },
  {
    letter: "D", caption: "Weight", xName: "Weight (kg)",
    grid: { left: 78, top: 322, width: 344, height: 217 },
    xMin: -2.6, xMax: 240.9, yMin: -0.0101, yMax: 0.0466, xTicks: dXTicks, yTicks: dYTicks, xDec: 0,
    tick: 8.5, xMargin: 6, yMargin: 17.5, xNameSize: 10, xNameGap: 17, yNameSize: 9.5, yNameGap: 48.5,
    letterPos: [12, 316], captionPos: [244, 588],
    line: zip(dLineX, dLineY), band: bandRows(dBandX, dBandLo, dBandHi), red: dRed, blue: dBlue,
  },
  {
    letter: "E", caption: "Number of visits", xName: "Number of visits",
    grid: { left: 507, top: 322, width: 356, height: 221 },
    xMin: -5.86, xMax: 154.5, yMin: -0.0257, yMax: 0.0303, xTicks: eXTicks, yTicks: eYTicks, xDec: 0,
    tick: 8, xMargin: 2.5, yMargin: 15, xNameSize: 10, xNameGap: 16.5, yNameSize: 9.5, yNameGap: 40,
    letterPos: [447, 317], captionPos: [697, 588],
    line: zip(eLineX, eLineY), band: bandRows(eBandX, eBandLo, eBandHi), red: eRed, blue: eBlueNear.concat(cols(eBlueCols)),
  },
  {
    letter: "F", caption: "Avg. days between visits", xName: "Avg. days between visits",
    grid: { left: 941, top: 322, width: 363, height: 222 },
    xMin: -3.45, xMax: 73.45, yMin: -0.0201, yMax: 0.1547, xTicks: fXTicks, yTicks: fYTicks, xDec: 0,
    tick: 8.5, xMargin: 3, yMargin: 9, xNameSize: 10, xNameGap: 16.5, yNameSize: 9.5, yNameGap: 40,
    letterPos: [884, 317], captionPos: [1141, 588],
    line: zip(fLineX, fLineY), band: bandRows(fBandX, fBandLo, fBandHi), red: fRed, blue: fBlueNear.concat(cols(fBlueCols)),
  },
];

export default function App() {
  const ref = useRef<HTMLDivElement>(null);
  useEffect(() => {
    if (!ref.current) return;
    const chart = echarts.init(ref.current, null, { renderer: "svg" });
    const grids: any[] = [];
    const xAxes: any[] = [];
    const yAxes: any[] = [];
    const series: any[] = [];
    const graphics: any[] = [];
    panels.forEach((p, i) => {
      grids.push({ ...p.grid, show: true, borderColor: FRAME, borderWidth: 1, containLabel: false });
      xAxes.push({
        type: "value", gridIndex: i, min: p.xMin, max: p.xMax,
        name: p.xName, nameLocation: "middle", nameGap: p.xNameGap,
        nameTextStyle: { fontFamily: "DejaVu Sans", fontSize: p.xNameSize, color: TXT },
        axisLine: { show: true, onZero: false, lineStyle: { color: FRAME, width: 1 } },
        axisTick: { show: true, customValues: p.xTicks, length: 3.5, lineStyle: { color: FRAME } },
        axisLabel: {
          customValues: p.xTicks, margin: p.xMargin, color: TXT, fontFamily: "DejaVu Sans", fontSize: p.tick,
          formatter: (v: number) => v.toFixed(p.xDec),
        },
        splitLine: { show: false },
      });
      yAxes.push({
        type: "value", gridIndex: i, min: p.yMin, max: p.yMax,
        name: "Shapley value", nameLocation: "middle", nameGap: p.yNameGap,
        nameTextStyle: { fontFamily: "DejaVu Sans", fontSize: p.yNameSize, color: TXT },
        axisLine: { show: true, onZero: false, lineStyle: { color: FRAME, width: 1 } },
        axisTick: { show: true, customValues: p.yTicks, length: 3.5, lineStyle: { color: FRAME } },
        axisLabel: {
          customValues: p.yTicks, margin: p.yMargin, color: TXT, fontFamily: "DejaVu Sans", fontSize: p.tick,
          formatter: (v: number) => fmtY(v),
        },
        splitLine: { show: false },
      });
      series.push({
        type: "scatter", xAxisIndex: i, yAxisIndex: i, data: p.blue, symbolSize: 4, z: 2, silent: true,
        itemStyle: { color: BLUE, opacity: 0.9 },
      });
      series.push({
        type: "scatter", xAxisIndex: i, yAxisIndex: i, data: p.red, symbolSize: 4, z: 2, silent: true,
        itemStyle: { color: RED, opacity: 0.9 },
      });
      const rows = p.band;
      series.push({
        type: "custom", xAxisIndex: i, yAxisIndex: i, data: rows, z: 3, silent: true,
        encode: { x: 0, y: [1, 2] },
        renderItem: (params: any, api: any) => {
          if (params.dataIndex !== 0) return null;
          const upper = rows.map((r) => api.coord([r[0], r[2]]));
          const lower = rows.map((r) => api.coord([r[0], r[1]])).reverse();
          return { type: "polygon", shape: { points: upper.concat(lower) }, style: { fill: BAND, stroke: null } };
        },
      });
      series.push({
        type: "line", xAxisIndex: i, yAxisIndex: i, data: p.line, z: 4, silent: true,
        showSymbol: false, symbol: "none", lineStyle: { color: LINE, width: 1.6 },
      });
      graphics.push({
        type: "text", x: p.letterPos[0], y: p.letterPos[1],
        style: { text: p.letter, font: "bold 16px 'Liberation Sans', Arial, sans-serif", fill: "#111", align: "left", verticalAlign: "middle" },
      });
      graphics.push({
        type: "text", x: p.captionPos[0], y: p.captionPos[1],
        style: { text: p.caption, font: "16px Lato, 'Open Sans', sans-serif", fill: "#1a1a1a", align: "center", verticalAlign: "middle" },
      });
    });
    chart.setOption({
      animation: false,
      backgroundColor: "#ffffff",
      textStyle: { fontFamily: "DejaVu Sans" },
      grid: grids,
      xAxis: xAxes,
      yAxis: yAxes,
      series,
      graphic: graphics,
    });
    return () => chart.dispose();
  }, []);
  return <div ref={ref} style={{ position: "fixed", left: 0, top: 0, width: 1290, height: 599 }} />;
}
